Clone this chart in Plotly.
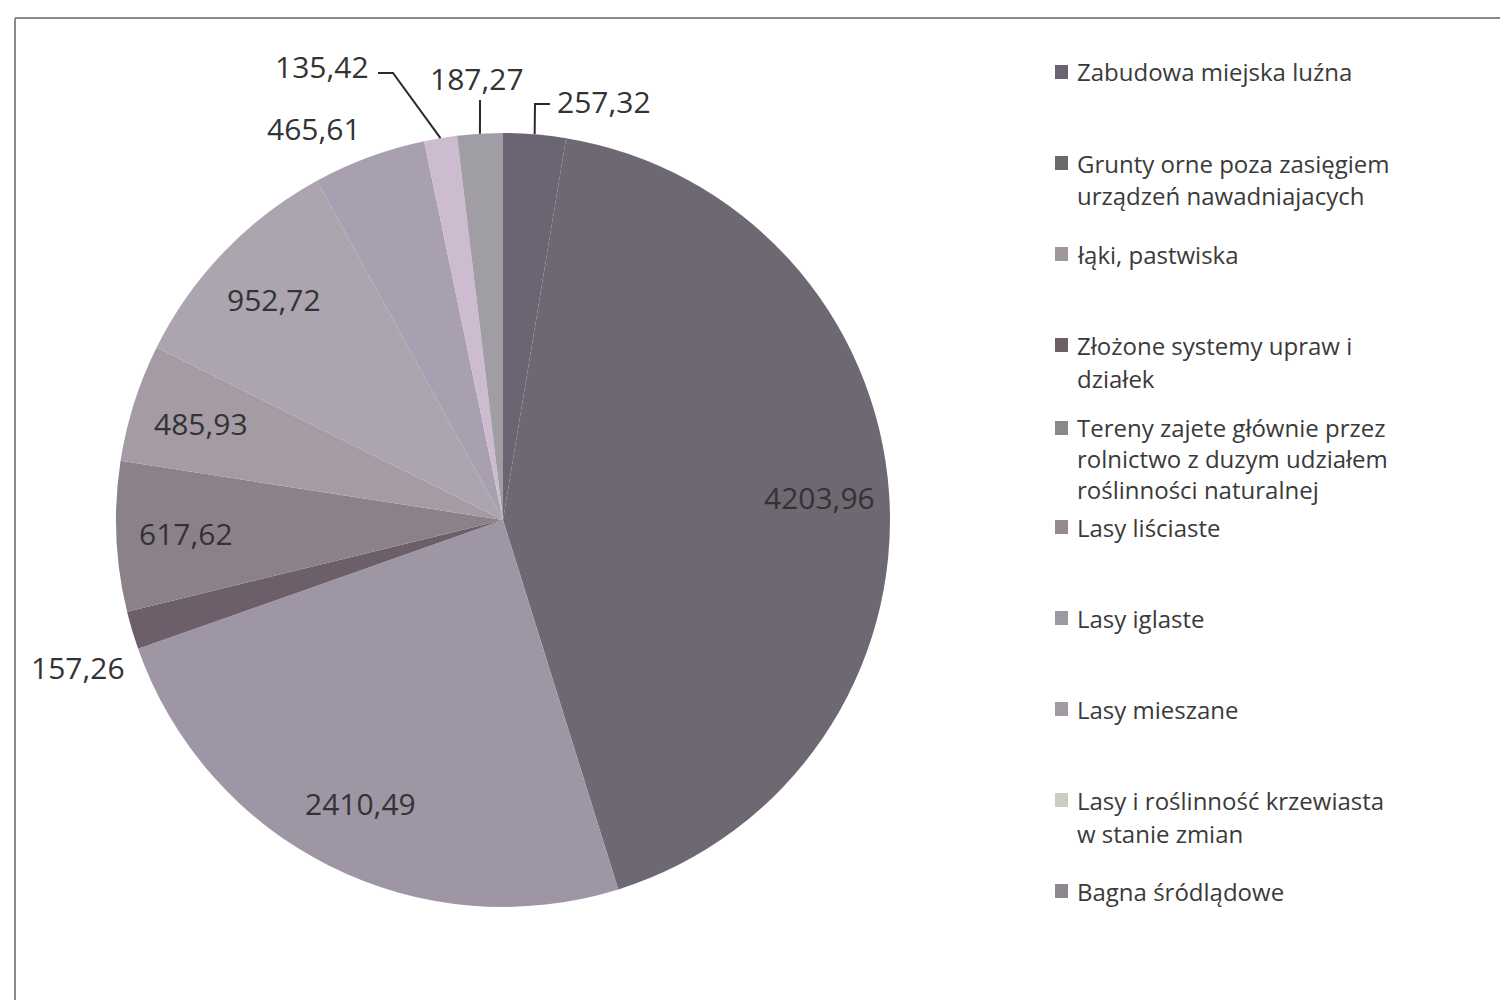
import math
import textwrap
import numpy as np
import plotly.graph_objects as go

# ---- data ----
categories = [
    "Zabudowa miejska luźna",
    "Grunty orne poza zasięgiem urządzeń nawadniajacych",
    "łąki, pastwiska",
    "Złożone systemy upraw i działek",
    "Tereny zajete głównie przez rolnictwo z duzym udziałem roślinności naturalnej",
    "Lasy liściaste",
    "Lasy iglaste",
    "Lasy mieszane",
    "Lasy i roślinność krzewiasta w stanie zmian",
    "Bagna śródlądowe",
]
values = [257.32, 4203.96, 2410.49, 157.26, 617.62, 485.93, 952.72, 465.61, 135.42, 187.27]

# ---- style ----
colors = ["#6b6573", "#6e6872", "#9e96a4", "#6d5f69", "#8b8188",
          "#a49ba5", "#aca4af", "#a8a0b0", "#cdbccf", "#a19da4"]
legend_colors = ["#6a6570", "#6a6a6e", "#a09898", "#6e5e66", "#8a8888",
                 "#948a92", "#9c98a4", "#a09aa2", "#c8d0c0", "#8c888e"]

OFF = 8                      # page body margin
W, H = 1508 - 2 * OFF, 1008 - 2 * OFF
CX, CY, R = 503, 520, 387    # screen pixels
FONT = "Open Sans"
TXT = "#333333"


def px(x, y):
    return (x - OFF) / W, 1 - (y - OFF) / H


fig = go.Figure()
dx0, dy0 = px(CX - R, CY + R)
dx1, dy1 = px(CX + R, CY - R)
fig.add_trace(go.Pie(
    labels=categories, values=values, sort=False, direction="clockwise", rotation=0,
    marker=dict(colors=colors, line=dict(width=0)),
    textinfo="none", hoverinfo="label+value", showlegend=False,
    domain=dict(x=[dx0, dx1], y=[dy0, dy1]),
))

total = float(np.sum(values))
cum = np.cumsum(values)
mid_deg = (cum - np.array(values) / 2) / total * 360.0


def polar(deg, rfac):
    a = math.radians(deg)
    return CX + rfac * R * math.sin(a), CY - rfac * R * math.cos(a)


def fmt(v):
    return f"{v:.2f}".replace(".", ",")


annotations = []
shapes = []

# label placement (layout only): inside labels on the bisector, outside ones placed by hand
outside = {
    0: dict(pos=(555, 102), anchor="left", leader=[(535, 104), (550, 104)]),
    7: dict(pos=(314, 128), anchor="center", leader=None),
    8: dict(pos=(322, 66), anchor="center", leader=[(393, 73), (378, 73)]),
    9: dict(pos=(477, 78), anchor="center", leader=[(480, 100)]),
    3: dict(pos=(78, 667), anchor="center", leader=None),
}
for i, v in enumerate(values):
    spec = outside.get(i)
    if spec:
        x, y = spec["pos"]
        if spec["leader"]:
            sx, sy = polar(mid_deg[i], 1.0)
            pts = [(sx, sy)] + spec["leader"]
            path = "M " + " L ".join(f"{px(a, b)[0]},{px(a, b)[1]}" for a, b in pts)
            shapes.append(dict(type="path", path=path, xref="paper", yref="paper",
                               line=dict(color="#2a2a2a", width=2)))
        xa = spec["anchor"]
    else:
        x, y = polar(mid_deg[i], 0.82)
        xa = "center"
    ax, ay = px(x, y)
    annotations.append(dict(text=fmt(v), x=ax, y=ay, xref="paper", yref="paper",
                            xanchor=xa, yanchor="middle", showarrow=False,
                            font=dict(family=FONT, size=30, color=TXT)))

# legend drawn as text rows
for i, name in enumerate(categories):
    lines = textwrap.wrap(name, 28)
    y0 = 72 + i * 91
    step = 33
    if len(lines) >= 3:
        y0 -= 8
        step = 31
    sx0, sy0 = px(1055, y0 - 7)
    sx1, sy1 = px(1068, y0 + 7)
    shapes.append(dict(type="rect", xref="paper", yref="paper", x0=sx0, x1=sx1,
                       y0=sy1, y1=sy0, fillcolor=legend_colors[i], line=dict(width=0)))
    for k, ln in enumerate(lines):
        lx, ly = px(1075, y0 + k * step)
        annotations.append(dict(text=ln, x=lx, y=ly, xref="paper", yref="paper",
                                xanchor="left", yanchor="middle", showarrow=False,
                                font=dict(family=FONT, size=24, color="#3a3a3a")))

# chart frame
fx0, fy0 = px(15, 18)
fx1, fy1 = px(1530, 1030)
shapes.append(dict(type="line", xref="paper", yref="paper", x0=fx0, y0=fy0, x1=fx1, y1=fy0,
                   line=dict(color="#8a8a8a", width=2)))
shapes.append(dict(type="line", xref="paper", yref="paper", x0=fx0, y0=fy0, x1=fx0, y1=fy1,
                   line=dict(color="#8a8a8a", width=2)))

fig.update_layout(
    width=W, height=H, margin=dict(l=0, r=0, t=0, b=0),
    paper_bgcolor="white", plot_bgcolor="white",
    annotations=annotations, shapes=shapes, showlegend=False,
)
fig.write_html("out.html")
